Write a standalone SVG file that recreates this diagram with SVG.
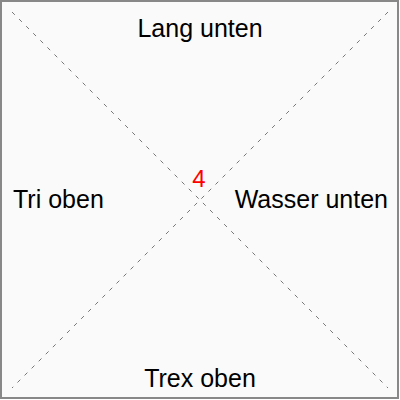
<svg xmlns="http://www.w3.org/2000/svg" width="400" height="400" viewBox="0 0 400 400">
  <style>
    .frame { fill: #fafafa; stroke: #888888; stroke-width: 2; }
    .diag { stroke: #555555; stroke-width: 0.8; stroke-dasharray: 4 6; fill: none; }
    .lbl { font-family: "Liberation Sans", Arial, sans-serif; font-size: 25px; fill: #000000; }
    .num { font-family: "Liberation Sans", Arial, sans-serif; font-size: 24px; fill: #ff0000; }
  </style>
  <rect class="frame" x="1" y="1" width="397" height="397"/>
  <g id="connectors">
    <line class="diag" x1="12" y1="12" x2="388" y2="388"/>
    <line class="diag" x1="388" y1="12" x2="12" y2="388"/>
  </g>
  <g id="top"><text class="lbl" x="200" y="37" text-anchor="middle">Lang unten</text></g>
  <g id="left"><text class="lbl" x="13" y="208" text-anchor="start">Tri oben</text></g>
  <g id="right"><text class="lbl" x="388" y="208" text-anchor="end">Wasser unten</text></g>
  <g id="bottom"><text class="lbl" x="200" y="387" text-anchor="middle">Trex oben</text></g>
  <g id="center"><text class="num" x="199" y="187" text-anchor="middle">4</text></g>
</svg>
